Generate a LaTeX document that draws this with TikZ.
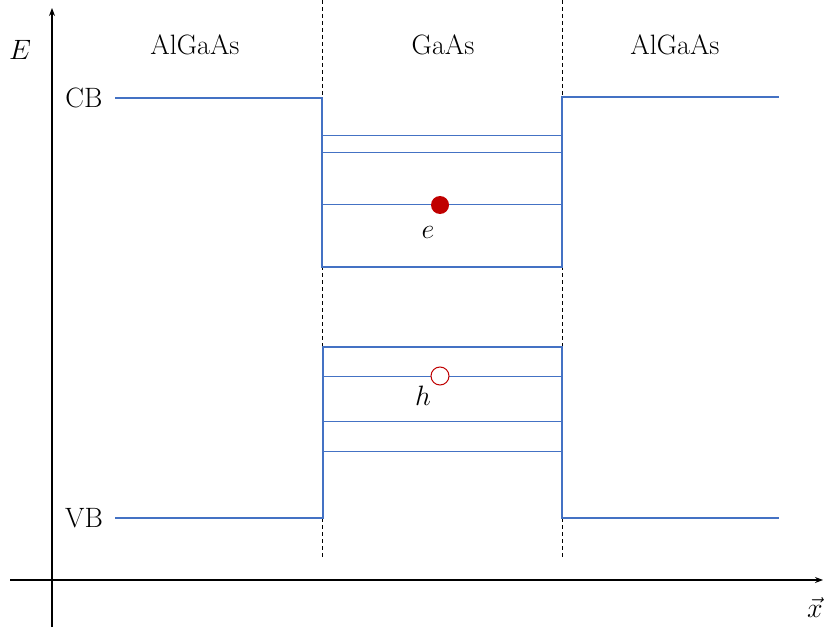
\RequirePackage{fix-cm}
\documentclass[tikz,border=0pt]{standalone}
\usetikzlibrary{arrows.meta}
\definecolor{bandblue}{HTML}{4472C4}
\definecolor{darkred}{HTML}{C00000}
\begin{document}
\begin{tikzpicture}[x=1pt,y=-1pt,
  band/.style={draw=bandblue,line width=2.6pt},
  level/.style={draw=bandblue,line width=0.9pt},
  divider/.style={draw=black,line width=0.9pt,dash pattern=on 4pt off 3pt},
  axis/.style={draw=black,line width=1.2pt,-{Stealth[length=8pt,width=6pt]}},
  lbl/.style={font=\fontsize{28}{32}\selectfont,inner sep=0pt},
  mlbl/.style={font=\fontsize{28}{32}\selectfont,inner sep=0pt}]
\useasboundingbox (0,0) rectangle (824,631);
% axes
\coordinate (yb) at (52,627); \coordinate (yt) at (52,8);
\coordinate (xl) at (10,580); \coordinate (xr) at (823,580);
\draw[axis] (yb) -- (yt);
\draw[axis] (xl) -- (xr);
\node[mlbl] (E) at (20,50) {$E$};
\node[mlbl] (X) at (815,608) {$\vec{x}$};
% dividers
\coordinate (d1t) at (322,0); \coordinate (d1b) at (322,558);
\coordinate (d2t) at (562,0); \coordinate (d2b) at (562,558);
\draw[divider] (d1t) -- (d1b);
\draw[divider] (d2t) -- (d2b);
% region labels
\node[lbl] (L1) at (195,45) {AlGaAs};
\node[lbl] (L2) at (443,45) {GaAs};
\node[lbl] (L3) at (675,45) {AlGaAs};
\node[lbl] (CB) at (84,98) {CB};
\node[lbl] (VB) at (84,518) {VB};
% conduction band
\coordinate (c1) at (115,98); \coordinate (c2) at (322,98);
\coordinate (c3) at (322,267); \coordinate (c4) at (562,267);
\coordinate (c5) at (562,97); \coordinate (c6) at (779,97);
\draw[band,line join=miter] (c1) -- (c2) -- (c3) -- (c4) -- (c5) -- (c6);
% valence band
\coordinate (v1) at (115,518); \coordinate (v2) at (323,518);
\coordinate (v3) at (323,347); \coordinate (v4) at (562,347);
\coordinate (v5) at (562,518); \coordinate (v6) at (779,518);
\draw[band,line join=miter] (v1) -- (v2) -- (v3) -- (v4) -- (v5) -- (v6);
% electron levels
\foreach \y/\n in {135/ea,152/eb,204/ec}{
  \coordinate (\n l) at (322,\y); \coordinate (\n r) at (562,\y);
  \draw[level] (\n l) -- (\n r);}
% hole levels
\foreach \y/\n in {376/ha,421/hb,451/hc}{
  \coordinate (\n l) at (323,\y); \coordinate (\n r) at (562,\y);
  \draw[level] (\n l) -- (\n r);}
% carriers
\node[circle,fill=darkred,minimum size=18pt,inner sep=0pt] (el) at (440,205) {};
\node[mlbl] (elab) at (428,232) {$e$};
\node[circle,draw=darkred,fill=white,line width=1pt,minimum size=18pt,inner sep=0pt] (ho) at (440,376) {};
\node[mlbl] (hlab) at (423,396) {$h$};
\end{tikzpicture}
\end{document}
